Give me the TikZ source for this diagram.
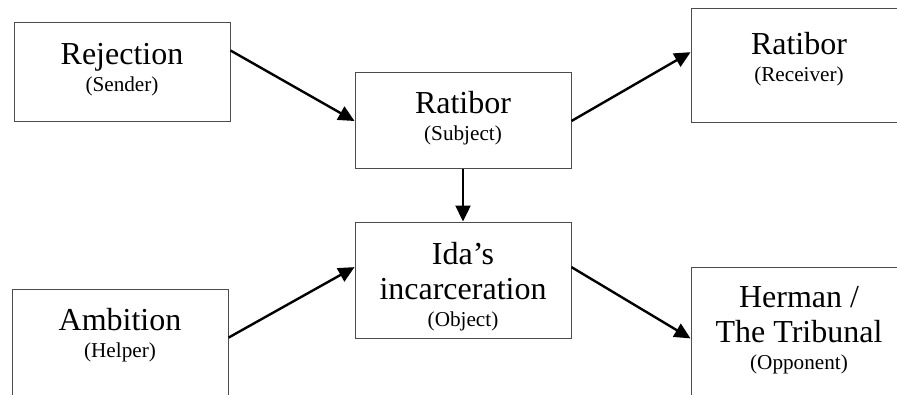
\documentclass[tikz,border=0pt]{standalone}
\usepackage{fontspec}
\setmainfont{Liberation Serif}
\usetikzlibrary{arrows.meta,calc,positioning}

\newcommand{\rolename}[1]{{\fontsize{10.6}{12}\selectfont (#1)}}

\tikzset{
  box/.style={draw=black!70, line width=0.5pt, minimum width=108pt, inner sep=0pt},
  lbl/.style={font=\fontsize{16}{17.5}\selectfont, align=center, inner sep=0pt},
  link/.style={line width=1.2pt, -{Triangle[length=8pt,width=7.5pt]}}
}

\begin{document}
\begin{tikzpicture}[x=0.5pt,y=-0.5pt]
  \useasboundingbox (0,0) rectangle (897,395);
  % boxes
  \node[box, minimum height=49.5pt] (sender)   at (122,72.5) {};
  \node[box, minimum height=48pt]   (subject)  at (463,121)  {};
  \node[box, minimum height=57pt]   (receiver) at (799,66)   {};
  \node[box, minimum height=58pt]   (object)   at (463,280)  {};
  \node[box, minimum height=58pt]   (helper)   at (120,347)  {};
  \node[box, minimum height=70pt]   (opponent) at (799,337)  {};
  % texts
  \node[lbl, below=10pt of sender.north]   (senderlbl)   {Rejection\\[-4pt]\rolename{Sender}};
  \node[lbl, below=9pt of subject.north]   (subjectlbl)  {Ratibor\\[-4pt]\rolename{Subject}};
  \node[lbl, below=11.5pt of receiver.north] (receiverlbl) {Ratibor\\[-4pt]\rolename{Receiver}};
  \node[lbl, below=10pt of object.north]   (objectlbl)   {Ida’s\\incarceration\\[-4pt]\rolename{Object}};
  \node[lbl, below=9.5pt of helper.north]  (helperlbl)   {Ambition\\[-4pt]\rolename{Helper}};
  \node[lbl, below=10pt of opponent.north] (opponentlbl) {Herman /\\The Tribunal\\[-4pt]\rolename{Opponent}};
  % arrows
  \draw[link] ($(sender.north east)!.28!(sender.south east)$) -- (subject.west);
  \draw[link] (subject.east) -- ($(receiver.north west)!.38!(receiver.south west)$);
  \draw[link] (subject) -- (object);
  \draw[link] ($(helper.north east)!.42!(helper.south east)$) -- ($(object.north west)!.39!(object.south west)$);
  \draw[link] ($(object.north east)!.39!(object.south east)$) -- ($(opponent.north west)!.51!(opponent.south west)$);
\end{tikzpicture}
\end{document}
